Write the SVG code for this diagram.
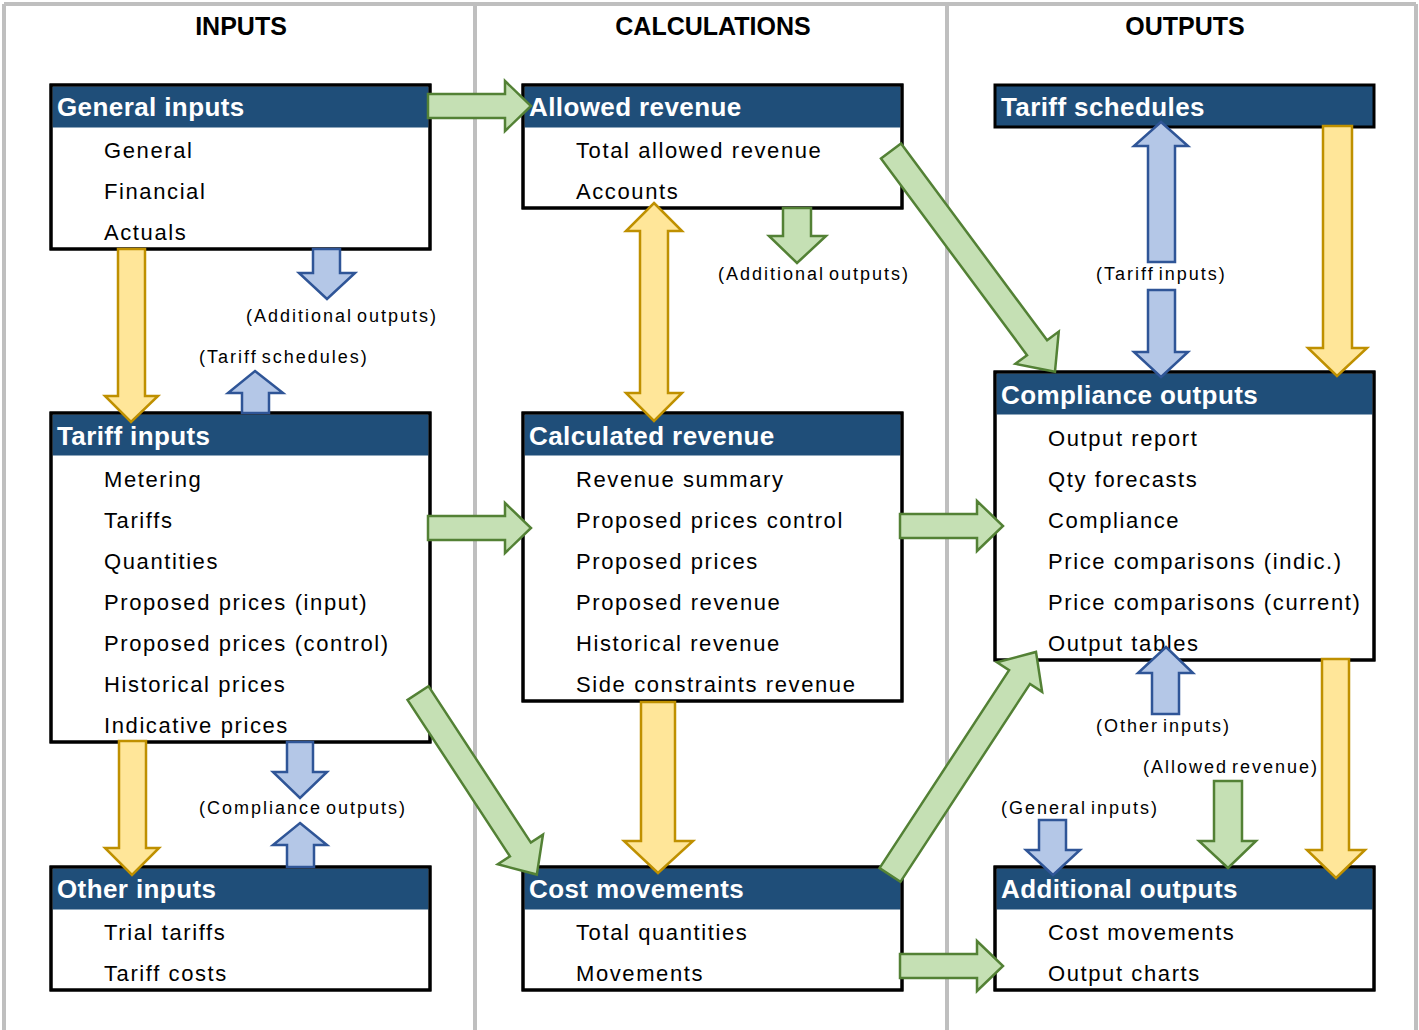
<svg xmlns="http://www.w3.org/2000/svg" width="1419" height="1030" viewBox="0 0 1419 1030">
<style>
.sep{stroke:#bfbfbf;stroke-width:4;fill:none}
.title{font-family:"Liberation Sans",Arial,sans-serif;font-weight:bold;font-size:25px;fill:#000;text-anchor:middle}
.box{fill:#fff;stroke:#000;stroke-width:3}
.hdr{fill:#1f4e79}
.htxt{font-family:"Liberation Sans",Arial,sans-serif;font-weight:bold;font-size:26px;fill:#fff;letter-spacing:0.4px}
.item{font-family:"Liberation Sans",Arial,sans-serif;font-size:22px;fill:#000;letter-spacing:1.6px}
.lbl{font-family:"Liberation Sans",Arial,sans-serif;font-size:18px;fill:#000;letter-spacing:2px;word-spacing:-3px}
.g{fill:#c5e0b4;stroke:#538135;stroke-width:2.5;stroke-linejoin:miter}
.y{fill:#ffe699;stroke:#bf9000;stroke-width:2.5}
.b{fill:#b4c7e7;stroke:#2f5597;stroke-width:2.5}
</style>
<rect x="0" y="0" width="1419" height="1030" fill="#fff"/>
<g id="frame">
<line class="sep" x1="4" y1="4" x2="1416" y2="4"/>
<line class="sep" x1="4" y1="4" x2="4" y2="1030"/>
<line class="sep" x1="475" y1="4" x2="475" y2="1030"/>
<line class="sep" x1="947" y1="4" x2="947" y2="1030"/>
<line class="sep" x1="1416" y1="4" x2="1416" y2="1030"/>
<text class="title" x="241" y="35">INPUTS</text>
<text class="title" x="713" y="35">CALCULATIONS</text>
<text class="title" x="1185" y="35">OUTPUTS</text>
</g>

<g id="general-inputs">
<rect class="box" x="51" y="85" width="379" height="164"/>
<rect class="hdr" x="52.5" y="86.5" width="376" height="41"/>
<rect x="51" y="85" width="379" height="164" fill="none" stroke="#000" stroke-width="3"/>
<text class="htxt" x="57" y="116">General inputs</text>
<text class="item" x="104" y="158">General</text>
<text class="item" x="104" y="199">Financial</text>
<text class="item" x="104" y="240">Actuals</text>
</g>

<g id="allowed-revenue">
<rect class="box" x="523" y="85" width="379" height="123"/>
<rect class="hdr" x="524.5" y="86.5" width="376" height="41"/>
<rect x="523" y="85" width="379" height="123" fill="none" stroke="#000" stroke-width="3"/>
<text class="htxt" x="529" y="116">Allowed revenue</text>
<text class="item" x="576" y="158">Total allowed revenue</text>
<text class="item" x="576" y="199">Accounts</text>
</g>

<g id="tariff-schedules">
<rect class="hdr" x="995" y="85" width="379" height="42" stroke="#000" stroke-width="3"/>
<text class="htxt" x="1001" y="116">Tariff schedules</text>
</g>

<g id="tariff-inputs">
<rect class="box" x="51" y="413" width="379" height="329"/>
<rect class="hdr" x="52.5" y="414.5" width="376" height="41"/>
<rect x="51" y="413" width="379" height="329" fill="none" stroke="#000" stroke-width="3"/>
<text class="htxt" x="57" y="445">Tariff inputs</text>
<text class="item" x="104" y="487">Metering</text>
<text class="item" x="104" y="528">Tariffs</text>
<text class="item" x="104" y="569">Quantities</text>
<text class="item" x="104" y="610">Proposed prices (input)</text>
<text class="item" x="104" y="651">Proposed prices (control)</text>
<text class="item" x="104" y="692">Historical prices</text>
<text class="item" x="104" y="733">Indicative prices</text>
</g>

<g id="calculated-revenue">
<rect class="box" x="523" y="413" width="379" height="288"/>
<rect class="hdr" x="524.5" y="414.5" width="376" height="41"/>
<rect x="523" y="413" width="379" height="288" fill="none" stroke="#000" stroke-width="3"/>
<text class="htxt" x="529" y="445">Calculated revenue</text>
<text class="item" x="576" y="487">Revenue summary</text>
<text class="item" x="576" y="528">Proposed prices control</text>
<text class="item" x="576" y="569">Proposed prices</text>
<text class="item" x="576" y="610">Proposed revenue</text>
<text class="item" x="576" y="651">Historical revenue</text>
<text class="item" x="576" y="692">Side constraints revenue</text>
</g>

<g id="compliance-outputs">
<rect class="box" x="995" y="372" width="379" height="288"/>
<rect class="hdr" x="996.5" y="373.5" width="376" height="41"/>
<rect x="995" y="372" width="379" height="288" fill="none" stroke="#000" stroke-width="3"/>
<text class="htxt" x="1001" y="404">Compliance outputs</text>
<text class="item" x="1048" y="446">Output report</text>
<text class="item" x="1048" y="487">Qty forecasts</text>
<text class="item" x="1048" y="528">Compliance</text>
<text class="item" x="1048" y="569">Price comparisons (indic.)</text>
<text class="item" x="1048" y="610">Price comparisons (current)</text>
<text class="item" x="1048" y="651">Output tables</text>
</g>

<g id="other-inputs">
<rect class="box" x="51" y="867" width="379" height="123"/>
<rect class="hdr" x="52.5" y="868.5" width="376" height="41"/>
<rect x="51" y="867" width="379" height="123" fill="none" stroke="#000" stroke-width="3"/>
<text class="htxt" x="57" y="898">Other inputs</text>
<text class="item" x="104" y="940">Trial tariffs</text>
<text class="item" x="104" y="981">Tariff costs</text>
</g>

<g id="cost-movements">
<rect class="box" x="523" y="867" width="379" height="123"/>
<rect class="hdr" x="524.5" y="868.5" width="376" height="41"/>
<rect x="523" y="867" width="379" height="123" fill="none" stroke="#000" stroke-width="3"/>
<text class="htxt" x="529" y="898">Cost movements</text>
<text class="item" x="576" y="940">Total quantities</text>
<text class="item" x="576" y="981">Movements</text>
</g>

<g id="additional-outputs">
<rect class="box" x="995" y="867" width="379" height="123"/>
<rect class="hdr" x="996.5" y="868.5" width="376" height="41"/>
<rect x="995" y="867" width="379" height="123" fill="none" stroke="#000" stroke-width="3"/>
<text class="htxt" x="1001" y="898">Additional outputs</text>
<text class="item" x="1048" y="940">Cost movements</text>
<text class="item" x="1048" y="981">Output charts</text>
</g>

<g id="connectors">
<polygon class="g" points="428,94 505,94 505,81 531,106 505,131 505,118 428,118"/>
<polygon class="g" points="428,516 505,516 505,503 531,528 505,553 505,540 428,540"/>
<polygon class="g" points="900,514 977,514 977,501 1003,526 977,551 977,538 900,538"/>
<polygon class="g" points="900,954 977,954 977,941 1003,966 977,991 977,978 900,978"/>
<polygon class="g" transform="translate(891,151) rotate(53.4)" points="0,-12.5 245,-12.5 245,-27 275,0 245,27 245,12.5 0,12.5"/>
<polygon class="g" transform="translate(418,693) rotate(56.8)" points="0,-12.5 187,-12.5 187,-27 217,0 187,27 187,12.5 0,12.5"/>
<polygon class="g" transform="translate(890,875) rotate(-56.8)" points="0,-12.5 236.6,-12.5 236.6,-27 266.6,0 236.6,27 236.6,12.5 0,12.5"/>
<polygon class="g" points="783,208 811,208 811,236 826,236 797,263 769,236 783,236"/>
<polygon class="g" points="1214,781 1242,781 1242,841 1256,841 1228,868 1199,841 1214,841"/>
<polygon class="y" points="654,203 682,231 668,231 668,393 682,393 654,421 626,393 640,393 640,231 626,231"/>
<polygon class="y" points="1323,126 1352,126 1352,348 1367,348 1337,376 1308,348 1323,348"/>
<polygon class="y" points="118,249 145,249 145,396 158,396 131,422 105,396 118,396"/>
<polygon class="y" points="641,702 675,702 675,841 693,841 658,873 624,841 641,841"/>
<polygon class="y" points="1322,659 1349,659 1349,850 1365,850 1336,878 1307,850 1322,850"/>
<polygon class="y" points="119,741 146,741 146,848 159,848 132,875 105,848 119,848"/>
<polygon class="b" points="1161,122 1188,146 1175,146 1175,262 1148,262 1148,146 1134,146"/>
<polygon class="b" points="1148,290 1175,290 1175,352 1188,352 1161,377 1134,352 1148,352"/>
<polygon class="b" points="313,249 340,249 340,273 355,273 327,299 299,273 313,273"/>
<polygon class="b" points="255,371 283,393 269,393 269,413 242,413 242,393 228,393"/>
<polygon class="b" points="1166,647 1193,673 1179,673 1179,714 1152,714 1152,673 1138,673"/>
<polygon class="b" points="1039,820 1066,820 1066,850 1080,850 1053,875 1026,850 1039,850"/>
<polygon class="b" points="287,742 313,742 313,772 327,772 300,798 273,772 287,772"/>
<polygon class="b" points="300,823 327,845 314,845 314,867 287,867 287,845 273,845"/>
<text class="lbl" x="246" y="322">(Additional outputs)</text>
<text class="lbl" x="199" y="363">(Tariff schedules)</text>
<text class="lbl" x="718" y="280">(Additional outputs)</text>
<text class="lbl" x="1096" y="280">(Tariff inputs)</text>
<text class="lbl" x="1096" y="732">(Other inputs)</text>
<text class="lbl" x="1143" y="773">(Allowed revenue)</text>
<text class="lbl" x="1001" y="814">(General inputs)</text>
<text class="lbl" x="199" y="814">(Compliance outputs)</text>
</g>
</svg>
